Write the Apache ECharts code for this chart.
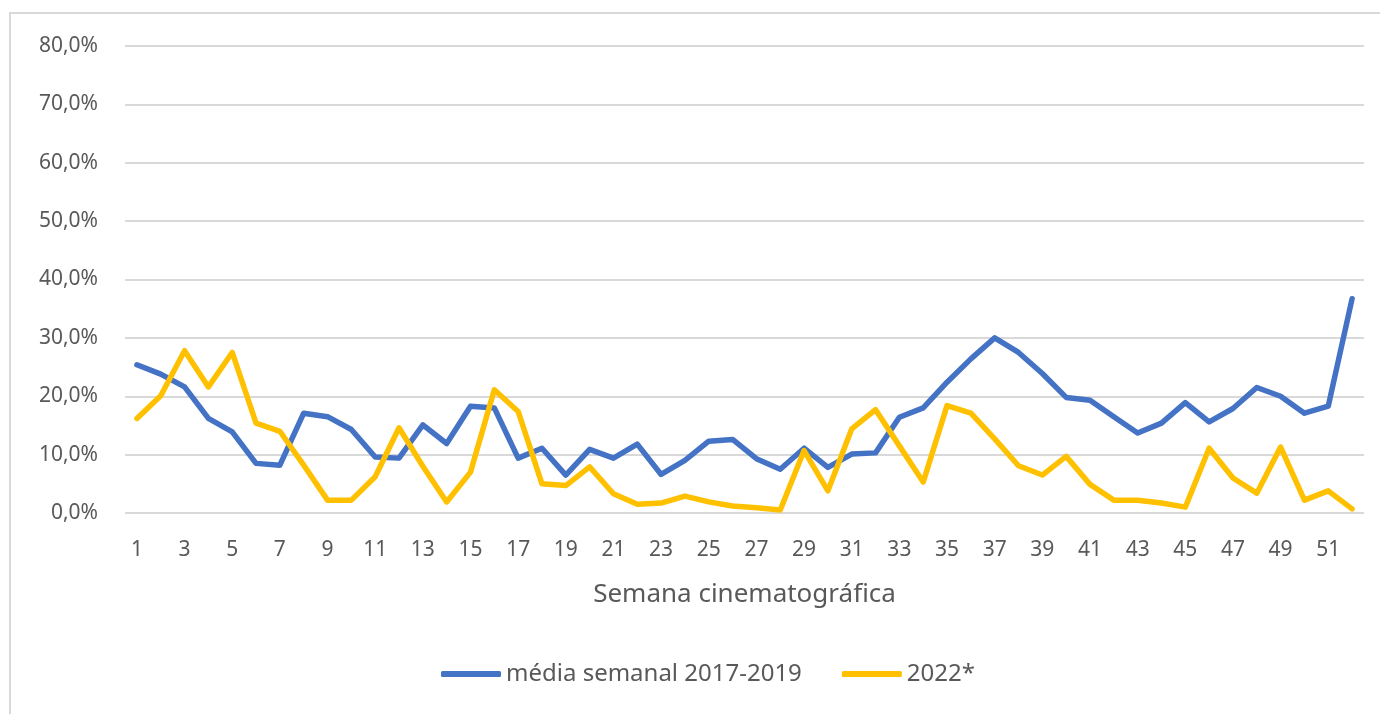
<!DOCTYPE html>
<html>
<head>
<meta charset="utf-8">
<script src="https://cdn.jsdelivr.net/npm/echarts@6/dist/echarts.min.js"></script>
<style>
html,body{margin:0;padding:0;background:#fff;}
#chart{width:1380px;height:714px;}
</style>
</head>
<body>
<div id="chart"></div>
<script>
const weeks = Array.from({length: 52}, (_, i) => String(i + 1));
const media20172019 = [25.4, 23.8, 21.6, 16.2, 13.9, 8.5, 8.2, 17.1, 16.5, 14.3, 9.6, 9.4, 15.1, 11.9, 18.3, 18.0, 9.4, 11.1, 6.5, 10.9, 9.4, 11.8, 6.6, 9.0, 12.3, 12.6, 9.3, 7.5, 11.1, 7.8, 10.1, 10.3, 16.4, 18.0, 22.4, 26.4, 30.0, 27.5, 23.9, 19.8, 19.3, 16.5, 13.7, 15.4, 18.9, 15.6, 17.9, 21.5, 20.0, 17.1, 18.3, 36.7];
const ano2022 = [16.2, 20.1, 27.8, 21.6, 27.5, 15.4, 14.0, 8.2, 2.2, 2.2, 6.2, 14.6, 8.0, 1.9, 7.0, 21.1, 17.4, 5.0, 4.7, 7.9, 3.3, 1.5, 1.7, 2.9, 1.9, 1.2, 0.9, 0.5, 10.7, 3.8, 14.4, 17.7, 11.5, 5.3, 18.4, 17.1, 12.7, 8.1, 6.5, 9.7, 4.9, 2.2, 2.2, 1.7, 1.0, 11.1, 6.0, 3.4, 11.3, 2.2, 3.8, 0.7];
const seriesNames = ['média semanal 2017-2019', '2022*'];
const yMin = 0, yMax = 80, yStep = 10;

const FONT = 'Noto Sans';
const TXT = '#595959';
const chart = echarts.init(document.getElementById('chart'), null, {renderer: 'canvas'});
chart.setOption({
  animation: false,
  backgroundColor: '#fff',
  textStyle: {fontFamily: FONT},
  graphic: [{
    type: 'rect', silent: true, z: -1,
    shape: {x: 10, y: 13, width: 1400, height: 740},
    style: {fill: 'none', stroke: '#D9D9D9', lineWidth: 2}
  }],
  grid: {left: 125, right: 16, top: 46, bottom: 201, containLabel: false},
  legend: {
    bottom: 23, left: 436,
    itemWidth: 60, itemHeight: 6, itemGap: 40,
    icon: 'roundRect',
    textStyle: {fontFamily: FONT, fontSize: 24, color: TXT},
    data: seriesNames
  },
  xAxis: {
    type: 'category', data: weeks, boundaryGap: true,
    name: 'Semana cinematográfica', nameLocation: 'middle', nameGap: 69,
    nameTextStyle: {fontFamily: FONT, fontSize: 26, color: TXT},
    axisLine: {show: false}, axisTick: {show: false},
    axisLabel: {interval: 1, fontFamily: FONT, fontSize: 21, color: TXT, margin: 27}
  },
  yAxis: {
    type: 'value', min: yMin, max: yMax, interval: yStep,
    axisLine: {show: false}, axisTick: {show: false},
    splitLine: {lineStyle: {color: '#D9D9D9', width: 2}},
    axisLabel: {
      fontFamily: FONT, fontSize: 21, color: TXT, margin: 27,
      formatter: v => v.toFixed(1).replace('.', ',') + '%'
    }
  },
  series: [
    {name: seriesNames[0], type: 'line', data: media20172019, symbol: 'none',
     lineStyle: {color: '#4472C4', width: 5.5, cap: 'round', join: 'round'}, itemStyle: {color: '#4472C4'}},
    {name: seriesNames[1], type: 'line', data: ano2022, symbol: 'none',
     lineStyle: {color: '#FFC000', width: 5.5, cap: 'round', join: 'round'}, itemStyle: {color: '#FFC000'}}
  ]
});
</script>
</body>
</html>
